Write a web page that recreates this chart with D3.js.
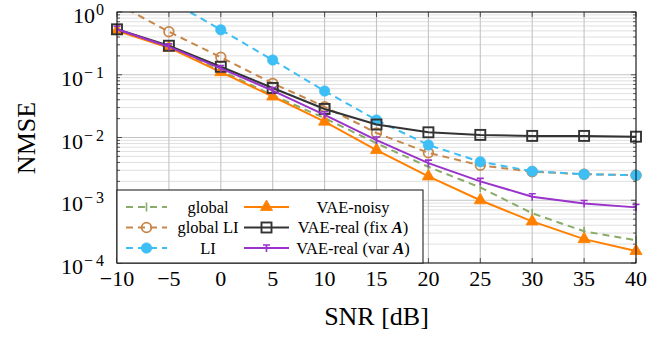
<!DOCTYPE html>
<html>
<head>
<meta charset="utf-8">
<script src="https://cdn.jsdelivr.net/npm/d3@7"></script>
<style>
  body { margin: 0; background: #fff; }
  svg { font-family: "Liberation Serif", "DejaVu Serif", serif; }
</style>
</head>
<body>
<svg id="chart" width="672" height="339"></svg>
<script>
// SNR values (dB) and NMSE results
var snr = [-10, -5, 0, 5, 10, 15, 20, 25, 30, 35, 40];
var globalV    = [0.52, 0.28, 0.117, 0.047, 0.0204, 0.0081, 0.0034, 0.0016, 0.00062, 0.00032, 0.00023];
var globalLI   = [1.35, 0.485, 0.19, 0.073, 0.031, 0.0118, 0.0057, 0.0036, 0.00285, 0.0026, 0.0025];
var LI         = [4.5, 1.55, 0.52, 0.172, 0.055, 0.019, 0.0076, 0.0041, 0.0029, 0.0026, 0.0025];
var vaeNoisy   = [0.5, 0.27, 0.11, 0.045, 0.0179, 0.0063, 0.0024, 0.001, 0.00046, 0.00024, 0.000155];
var vaeRealFix = [0.53, 0.29, 0.134, 0.0615, 0.0285, 0.0161, 0.0121, 0.011, 0.0106, 0.0106, 0.0103];
var vaeRealVar = [0.53, 0.28, 0.126, 0.056, 0.023, 0.0091, 0.0039, 0.002, 0.00114, 0.00089, 0.00077];

var xTicks = [-10, -5, 0, 5, 10, 15, 20, 25, 30, 35, 40];
var yTicks = [1, 0.1, 0.01, 0.001, 0.0001];

var series = [
  {name: "global",    values: globalV,    color: "#8aab69", dash: "7,5", mark: "bar"},
  {name: "global LI", values: globalLI,   color: "#c8874a", dash: "7,5", mark: "ocircle"},
  {name: "LI",        values: LI,         color: "#3dbef5", dash: "7,5", mark: "circle"},
  {name: "VAE-noisy", values: vaeNoisy,   color: "#ff8000", dash: null,  mark: "triangle"},
  {name: "VAE-real (fix ", values: vaeRealFix, color: "#333333", dash: null, mark: "square", bold: "A"},
  {name: "VAE-real (var ", values: vaeRealVar, color: "#9933cc", dash: null, mark: "tri", bold: "A"}
];

var pLeft = 117, pRight = 636, pTop = 12, pBottom = 263;
var svg = d3.select("#chart");

var x = d3.scaleLinear().domain([-10, 40]).range([pLeft, pRight]);
var y = d3.scaleLog().domain([1e-4, 1]).range([pBottom, pTop]);

// grid
var minor = [];
for (var e = -4; e < 0; e++) for (var m = 2; m <= 9; m++) minor.push(m * Math.pow(10, e));

var grid = svg.append("g");
grid.selectAll(".gm").data(minor).enter().append("line")
  .attr("x1", pLeft).attr("x2", pRight)
  .attr("y1", function(d) { return y(d); }).attr("y2", function(d) { return y(d); })
  .attr("stroke", "#d2d2d2").attr("stroke-width", 0.7);
grid.selectAll(".gy").data(yTicks).enter().append("line")
  .attr("x1", pLeft).attr("x2", pRight)
  .attr("y1", function(d) { return y(d); }).attr("y2", function(d) { return y(d); })
  .attr("stroke", "#c4c4c4").attr("stroke-width", 1.1);
grid.selectAll(".gx").data(xTicks).enter().append("line")
  .attr("y1", pTop).attr("y2", pBottom)
  .attr("x1", function(d) { return x(d); }).attr("x2", function(d) { return x(d); })
  .attr("stroke", "#c4c4c4").attr("stroke-width", 1.1);

// tick marks (inward, all sides)
var ticks = svg.append("g").attr("stroke", "#333").attr("stroke-width", 0.8);
xTicks.forEach(function(t) {
  ticks.append("line").attr("x1", x(t)).attr("x2", x(t)).attr("y1", pBottom).attr("y2", pBottom - 5);
  ticks.append("line").attr("x1", x(t)).attr("x2", x(t)).attr("y1", pTop).attr("y2", pTop + 5);
});
yTicks.forEach(function(t) {
  ticks.append("line").attr("x1", pLeft).attr("x2", pLeft + 5).attr("y1", y(t)).attr("y2", y(t));
  ticks.append("line").attr("x1", pRight).attr("x2", pRight - 5).attr("y1", y(t)).attr("y2", y(t));
});
minor.forEach(function(t) {
  ticks.append("line").attr("x1", pLeft).attr("x2", pLeft + 3).attr("y1", y(t)).attr("y2", y(t));
  ticks.append("line").attr("x1", pRight).attr("x2", pRight - 3).attr("y1", y(t)).attr("y2", y(t));
});

// clip for data
svg.append("defs").append("clipPath").attr("id", "plotclip")
  .append("rect").attr("x", pLeft - 8).attr("y", pTop).attr("width", pRight - pLeft + 16).attr("height", pBottom - pTop);

function drawMark(g, type, cx, cy, color) {
  if (type === "bar") {
    g.append("line").attr("x1", cx).attr("x2", cx).attr("y1", cy - 4.5).attr("y2", cy + 4.5)
      .attr("stroke", color).attr("stroke-width", 1.6);
  } else if (type === "ocircle") {
    g.append("circle").attr("cx", cx).attr("cy", cy).attr("r", 4.8)
      .attr("fill", "none").attr("stroke", color).attr("stroke-width", 1.8);
  } else if (type === "circle") {
    g.append("circle").attr("cx", cx).attr("cy", cy).attr("r", 5.3)
      .attr("fill", color).attr("stroke", color).attr("stroke-width", 0.5);
  } else if (type === "triangle") {
    g.append("path").attr("d", d3.symbol(d3.symbolTriangle, 64)())
      .attr("transform", "translate(" + cx + "," + cy + ")")
      .attr("fill", color).attr("stroke", color).attr("stroke-width", 0.8);
  } else if (type === "square") {
    g.append("rect").attr("x", cx - 5).attr("y", cy - 5).attr("width", 10).attr("height", 10)
      .attr("fill", "none").attr("stroke", color).attr("stroke-width", 1.9);
  } else if (type === "tri") {
    g.append("path").attr("d", "M" + (cx - 3.5) + "," + (cy - 3) + "L" + (cx + 3.5) + "," + (cy - 3)
        + "M" + cx + "," + (cy - 3) + "L" + cx + "," + (cy + 4))
      .attr("fill", "none").attr("stroke", color).attr("stroke-width", 1.6);
  }
}

var plot = svg.append("g").attr("clip-path", "url(#plotclip)");
var line = d3.line()
  .x(function(d, i) { return x(snr[i]); })
  .y(function(d) { return y(d); });

series.forEach(function(s) {
  plot.append("path").datum(s.values)
    .attr("d", line)
    .attr("fill", "none")
    .attr("stroke", s.color)
    .attr("stroke-width", 2)
    .attr("stroke-dasharray", s.dash);
  s.values.forEach(function(v, i) {
    drawMark(plot, s.mark, x(snr[i]), y(v), s.color);
  });
});

// frame
svg.append("rect").attr("x", pLeft).attr("y", pTop).attr("width", pRight - pLeft).attr("height", pBottom - pTop)
  .attr("fill", "none").attr("stroke", "#111").attr("stroke-width", 1);

// tick labels
svg.selectAll(".xl").data(xTicks).enter().append("text")
  .attr("x", function(d) { return x(d); })
  .attr("y", 286)
  .attr("text-anchor", "middle")
  .attr("font-size", 22)
  .text(function(d) { return d < 0 ? "\u2212" + Math.abs(d) : d; });

yTicks.forEach(function(t) {
  var exp = Math.round(Math.log10(t));
  var tx = svg.append("text")
    .attr("x", 107).attr("y", y(t) + 11)
    .attr("text-anchor", "end")
    .attr("font-size", 22);
  tx.append("tspan").text("10");
  tx.append("tspan").attr("dy", -8).attr("dx", 1).attr("font-size", 16).attr("letter-spacing", 3)
    .text(exp < 0 ? "\u2212" + Math.abs(exp) : exp);
});

// axis labels
svg.append("text").attr("x", (pLeft + pRight) / 2).attr("y", 325)
  .attr("text-anchor", "middle").attr("font-size", 26).text("SNR [dB]");
svg.append("text").attr("transform", "translate(35,138) rotate(-90)")
  .attr("text-anchor", "middle").attr("font-size", 26).text("NMSE");

// legend
var lg = svg.append("g");
lg.append("rect").attr("x", pLeft).attr("y", 190).attr("width", 306).attr("height", pBottom - 190)
  .attr("fill", "#fff").attr("stroke", "#111").attr("stroke-width", 1);
var rowsY = [207, 227.5, 248];
series.forEach(function(s, i) {
  var col = Math.floor(i / 3), row = i % 3;
  var x0 = col === 0 ? 126 : 244, x1 = col === 0 ? 167 : 289;
  var cy = rowsY[row];
  lg.append("line").attr("x1", x0).attr("x2", x1).attr("y1", cy).attr("y2", cy)
    .attr("stroke", s.color).attr("stroke-width", 2).attr("stroke-dasharray", s.dash);
  drawMark(lg, s.mark, (x0 + x1) / 2, cy, s.color);
  var t = lg.append("text")
    .attr("x", col === 0 ? 208 : 353).attr("y", cy + 5.5)
    .attr("text-anchor", "middle").attr("font-size", 16.5);
  t.append("tspan").text(s.name);
  if (s.bold) {
    t.append("tspan").attr("font-weight", "bold").attr("font-style", "italic").text(s.bold);
    t.append("tspan").text(")");
  }
});
</script>
</body>
</html>
